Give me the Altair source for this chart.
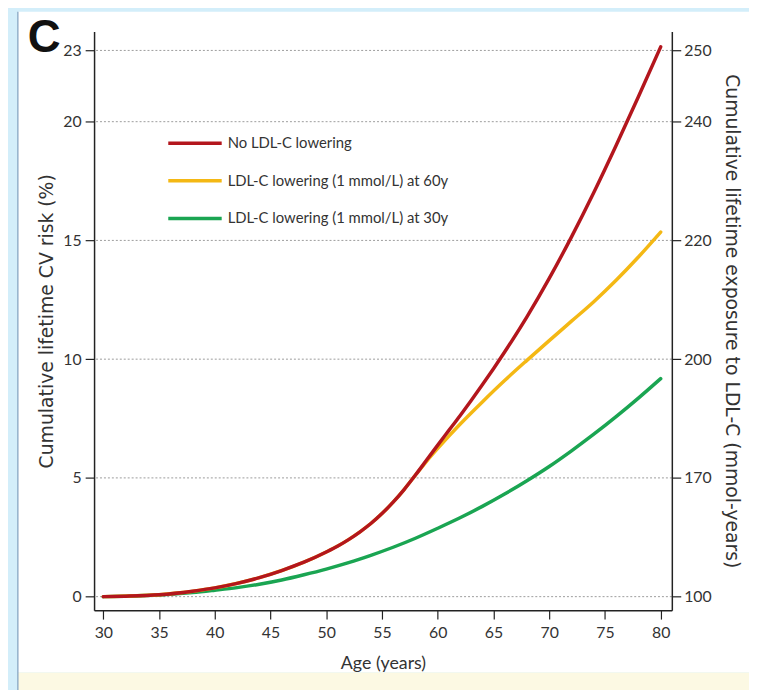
import altair as alt
import pandas as pd

# ---------------- data ----------------
panel_label = ["C"]
series_names = [
    "No LDL-C lowering",
    "LDL-C lowering (1 mmol/L) at 60y",
    "LDL-C lowering (1 mmol/L) at 30y",
]
series_colors = ["#b3161d", "#f4b814", "#1aa552"]

red_ages = [30, 32, 35, 38, 40, 42, 44, 46, 48, 50, 51, 52, 53, 54, 55, 56, 57, 58, 59, 60,
            61, 62, 63, 64, 65, 66, 68, 70, 72, 74, 76, 78, 80]
red_vals = [0.0, 0.02, 0.08, 0.23, 0.37, 0.56, 0.8, 1.1, 1.45, 1.88, 2.12, 2.4, 2.72, 3.08,
            3.5, 3.98, 4.52, 5.12, 5.75, 6.38, 7.0, 7.62, 8.26, 8.92, 9.6, 10.3, 11.78, 13.4,
            15.15, 17.02, 19.0, 21.05, 23.15]

yellow_ages = [30, 35, 40, 44, 48, 50, 52, 54, 55, 56, 57, 58, 59, 60, 61, 62, 64, 66, 68, 70,
               72, 74, 76, 78, 80]
yellow_vals = [0.0, 0.08, 0.37, 0.8, 1.45, 1.88, 2.4, 3.08, 3.5, 3.98, 4.52, 5.12, 5.7, 6.24,
               6.76, 7.26, 8.2, 9.1, 9.95, 10.78, 11.6, 12.42, 13.32, 14.3, 15.35]

green_ages = [30, 32, 35, 38, 40, 42, 44, 46, 48, 50, 52, 54, 56, 58, 60, 62, 64, 66, 68, 70,
              72, 74, 76, 78, 80]
green_vals = [0.0, 0.02, 0.07, 0.17, 0.27, 0.38, 0.52, 0.7, 0.92, 1.16, 1.43, 1.74, 2.08, 2.46,
              2.88, 3.32, 3.8, 4.32, 4.88, 5.48, 6.14, 6.84, 7.58, 8.36, 9.18]

x_ticks = [30, 35, 40, 45, 50, 55, 60, 65, 70, 75, 80]
y_ticks = [0, 5, 10, 15, 20, 23]
right_labels = ["100", "170", "200", "220", "240", "250"]

# ---------------- tables ----------------
rows = []
for name, ages, vals in zip(series_names, [red_ages, yellow_ages, green_ages],
                            [red_vals, yellow_vals, green_vals]):
    for a, v in zip(ages, vals):
        rows.append({"age": a, "risk": v, "series": name})
df = pd.DataFrame(rows)
grid_df = pd.DataFrame({"v": y_ticks, "lab": right_labels})

right_expr = ""
for v, lab in zip(y_ticks, right_labels):
    right_expr += f"datum.value == {v} ? '{lab}' : "
right_expr += "''"

# ---------------- layout / styling ----------------
W, H = 584, 585
X_DOMAIN = [29.17, 81.0]
Y_DOMAIN = [-0.57, 23.8]
LABEL_FONT = "Lato, Liberation Sans, sans-serif"
TITLE_FONT = "DejaVu Sans, Verdana, sans-serif"
AX = "#222222"
TXT = "#333333"

color = alt.Color(
    "series:N",
    scale=alt.Scale(domain=series_names, range=series_colors),
    legend=alt.Legend(
        title=None, orient="none", legendX=73, legendY=103,
        symbolType="stroke", symbolSize=2916, symbolStrokeWidth=3.5,
        clipHeight=20, rowPadding=18, padding=0, labelLimit=0,
        labelFont=LABEL_FONT, labelFontSize=15, labelColor=TXT, labelOffset=4,
    ),
)

x_enc = alt.X(
    "age:Q",
    scale=alt.Scale(domain=X_DOMAIN, nice=False, zero=False),
    axis=alt.Axis(
        values=x_ticks, title="Age (years)", grid=False,
        domainColor=AX, domainWidth=1.5, tickColor=AX, tickWidth=1.2, tickSize=9,
        labelFont=LABEL_FONT, labelFontSize=16, labelColor=TXT, labelPadding=6,
        titleFont=LABEL_FONT, titleFontSize=18, titleFontWeight="normal", titleColor=TXT,
        titleY=54, titleBaseline="middle", zindex=1,
    ),
)

y_left = alt.Y(
    "risk:Q",
    scale=alt.Scale(domain=Y_DOMAIN, nice=False, zero=False),
    axis=alt.Axis(
        orient="left", values=y_ticks, title="Cumulative lifetime CV risk (%)", grid=False,
        domainColor=AX, domainWidth=1.5, tickColor=AX, tickWidth=1.2, tickSize=9,
        labelFont=LABEL_FONT, labelFontSize=16, labelColor=TXT, labelPadding=4,
        titleFont=TITLE_FONT, titleFontSize=19, titleFontWeight="normal", titleColor=TXT,
        titleX=-48, titleY=H / 2, titleAngle=-90, titleAlign="center", titleBaseline="middle",
        zindex=1,
    ),
)

y_right = alt.Y(
    "v:Q",
    scale=alt.Scale(domain=Y_DOMAIN, nice=False, zero=False),
    axis=alt.Axis(
        orient="right", values=y_ticks, labelExpr=right_expr,
        title="Cumulative lifetime exposure to LDL-C (mmol-years)", grid=False,
        domainColor=AX, domainWidth=1.5, tickColor=AX, tickWidth=1.2, tickSize=9,
        labelFont=LABEL_FONT, labelFontSize=16, labelColor=TXT, labelPadding=3,
        titleFont=TITLE_FONT, titleFontSize=19, titleFontWeight="normal", titleColor=TXT,
        titleX=60, titleY=H / 2, titleAngle=90, titleAlign="center", titleBaseline="middle",
        zindex=1,
    ),
)

one = alt.Data(values=[{"k": 1}])
panel = alt.Chart(one).mark_rect(fill="white").encode(
    x=alt.value(-77), x2=alt.value(700), y=alt.value(-20), y2=alt.value(648))
strip = alt.Chart(one).mark_rect(fill="#fcf9e3").encode(
    x=alt.value(-77), x2=alt.value(700), y=alt.value(648), y2=alt.value(670))
border = alt.Chart(one).mark_rule(stroke="#7f9fbd", strokeWidth=1.2).encode(
    x=alt.value(-77), y=alt.value(-20), y2=alt.value(670))

label_df = pd.DataFrame({"t": panel_label})
letter = alt.Chart(label_df).mark_text(
    font="Liberation Sans, Arial, sans-serif", fontSize=46, fontWeight="bold",
    color="#111111", align="left", baseline="alphabetic",
).encode(text="t:N", x=alt.value(-67), y=alt.value(21))

rules = alt.Chart(grid_df).mark_rule(
    stroke="#9c9c9c", strokeWidth=1, strokeDash=[2, 2]
).encode(y=y_right)


def series_line(name):
    return alt.Chart(df).transform_filter(alt.datum.series == name).mark_line(
        strokeWidth=3.5, interpolate="monotone", strokeCap="round"
    ).encode(x=x_enc, y=y_left, color=color)


lines = alt.layer(series_line(series_names[2]), series_line(series_names[1]),
                  series_line(series_names[0]))

chart = alt.layer(panel, strip, border, letter, rules, lines).resolve_scale(
    y="independent"
).properties(
    width=W, height=H,
    background="#d3eefa",
    padding={"left": 87, "top": 20, "right": 78, "bottom": 77},
    autosize=alt.AutoSizeParams(type="none"),
).configure_view(stroke=None)

chart.save("out.html", embed_options={"renderer": "svg", "actions": False})
